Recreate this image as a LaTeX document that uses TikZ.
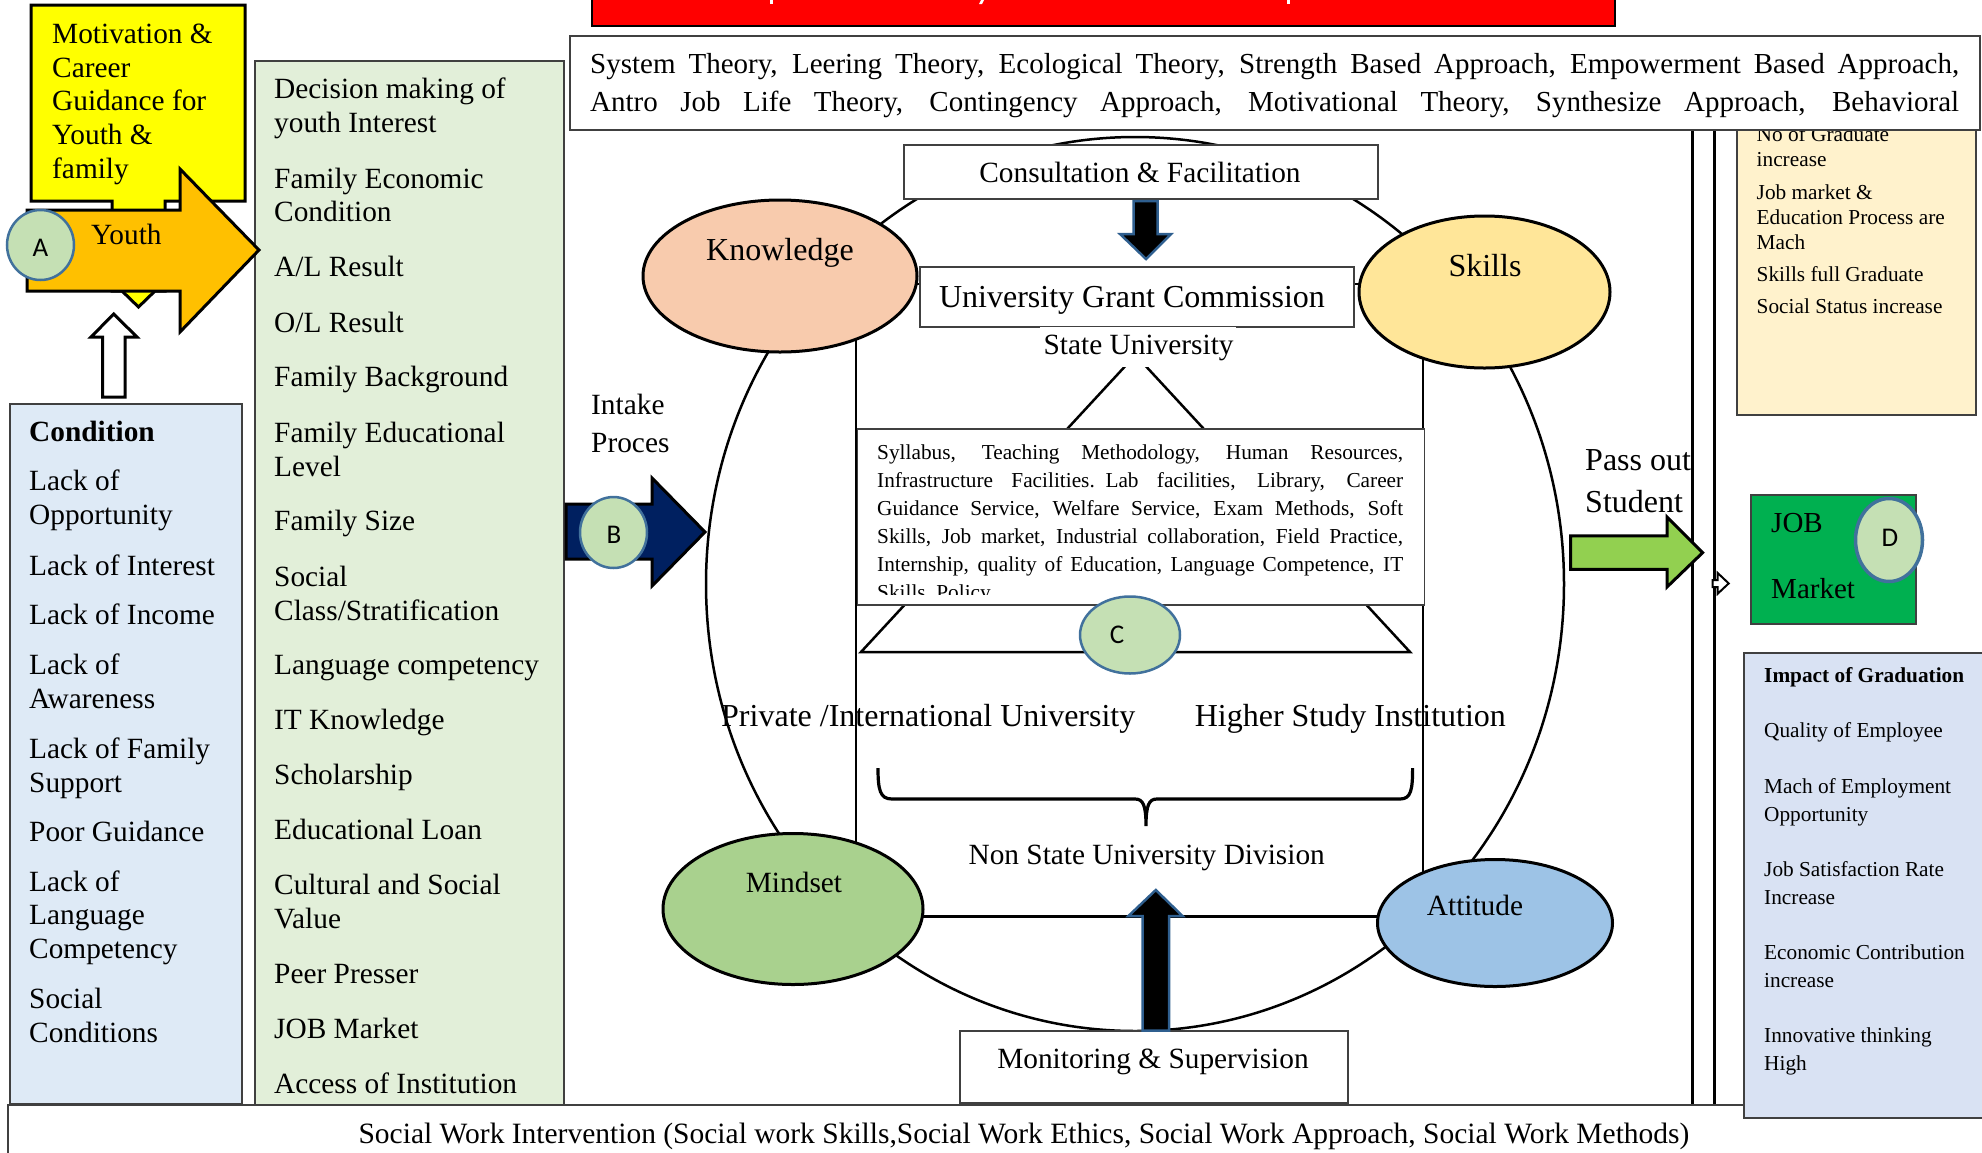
\documentclass[tikz,border=0pt]{standalone}
\usepackage{fontspec}
\setmainfont{Liberation Serif}
\newfontfamily\circfont{Carlito}
\usetikzlibrary{shapes.geometric}
\definecolor{badgeblue}{HTML}{41719C}
\definecolor{badgegreen}{HTML}{C5E0B4}
\definecolor{arrowblue}{HTML}{2F5F8F}
\definecolor{condblue}{HTML}{DEEAF6}
\definecolor{factgreen}{HTML}{E2EFD9}
\definecolor{cream}{HTML}{FFF2CC}
\definecolor{impact}{HTML}{D9E2F3}
\definecolor{orangeA}{HTML}{FFC000}
\definecolor{navy}{HTML}{002060}
\definecolor{lime}{HTML}{92D050}
\definecolor{jobgreen}{HTML}{00B050}
\definecolor{knowc}{HTML}{F8CBAD}
\definecolor{skillc}{HTML}{FFE699}
\definecolor{mindc}{HTML}{A9D18E}
\definecolor{attc}{HTML}{9DC3E6}
\definecolor{pureyellow}{HTML}{FFFF00}
\definecolor{purered}{HTML}{FF0000}
\newcommand\jline[2]{{\spaceskip=0.25em plus 1em minus 0.05em\relax\makebox[#1][s]{#2}}}
\tikzset{
  panel/.style={draw=#1,line width=1.6pt,inner sep=0pt,anchor=north west},
  panel/.default=black!75,
  blob/.style={ellipse,draw=black,line width=3pt,inner sep=0pt},
  badge/.style={ellipse,draw=badgeblue,fill=badgegreen,line width=2.5pt,inner sep=0pt},
  badgetext/.style={inner sep=0pt,font=\circfont\fontsize{27}{30}\selectfont},
  txt/.style={anchor=base west,inner sep=0pt,text width=#1,align=left,execute at begin node={\spaceskip=0.25em\relax}},
  txt/.default=600pt,
  ctxt/.style={anchor=base,inner sep=0pt},
  body/.style={font=\fontsize{29.35}{33.7}\selectfont},
  big/.style={font=\fontsize{32}{38}\selectfont},
  small/.style={font=\fontsize{21.3}{28}\selectfont},
  blockarrow/.style={line width=3pt,draw=black,line join=miter},
  navarrow/.style={line width=2.5pt,draw=arrowblue,fill=black,line join=miter},
}
\begin{document}
\begin{tikzpicture}[x=1pt,y=-1pt]
\useasboundingbox (0,0) rectangle (1982,1152);
% red banner
\node[panel=black,fill=purered,minimum width=1023pt,minimum height=45pt] (banner) at (591,-20) {};
\fill[white] (769.5,0) rectangle (773,4);
\fill[white] (979,4) -- (981,0) -- (984,0) -- (982,4) -- cycle;
\fill[white] (1286.5,0) rectangle (1290,4);
% ring and frame behind everything
\node[ellipse,draw=black,line width=2.5pt,inner sep=0pt,minimum width=858pt,minimum height=894pt] (ring) at (1135,584) {};
\draw[line width=2pt] (856,284) -- (1423,284) -- (1423,916);
\draw[line width=2pt] (856,284) -- (856,916);
\draw[line width=3pt] (856,916) -- (1423,916);
% triangle
\draw[line width=2.5pt,line join=miter] (1135.5,355) -- (861,652) -- (1410,652) -- cycle;
% double lines
\draw[line width=3pt] (1692.7,129) -- (1692.7,1104);
\draw[line width=3pt] (1714,129) -- (1714,1104);
% small white arrow
\draw[line width=2pt,fill=white,line join=miter] (1712.7,580) -- (1717.7,580) -- (1717.7,573) -- (1728.7,583.4) -- (1717.7,593.7) -- (1717.7,587) -- (1712.7,587) -- cycle;
% cream box
\node[panel,fill=cream,minimum width=239pt,minimum height=324pt] (creambox) at (1736,90) {};
\foreach \y/\t [count=\i] in {141.6/{No of Graduate\\increase},199/{Job market \&\\Education Process are\\Mach},281/{Skills full Graduate},313.7/{Social Status increase}}
  \node[txt,font=\fontsize{21.3}{25}\selectfont] (cr\i) at (1756.5,\y) {\t};
% theory box
\node[panel,fill=white,minimum width=1410pt,minimum height=94pt] (theory) at (569,35) {};
\node[txt=1369pt,font=\fontsize{29}{38}\selectfont] (theorytext) at (590,73) {\jline{1369pt}{System Theory, Leering Theory, Ecological Theory, Strength Based Approach, Empowerment Based Approach,}\\\jline{1369pt}{Antro Job Life Theory, Contingency Approach, Motivational Theory, Synthesize Approach, Behavioral}};
% left column
\node[panel,fill=condblue,minimum width=232pt,minimum height=700pt] (cond) at (9,403) {};
\node[txt,body] (condhead) at (29,441) {\textbf{Condition}};
\foreach \y/\t [count=\i] in {489/{Lack of\\Opportunity},573.5/{Lack of Interest},622.8/{Lack of Income},673/{Lack of\\Awareness},756.8/{Lack of Family\\Support},840/{Poor Guidance},889.5/{Lack of\\Language\\Competency},1007/{Social\\Conditions}}
  \node[txt,body] (c\i) at (29,\y+1.5) {\t};
\node[panel,fill=factgreen,minimum width=309pt,minimum height=1045pt] (factors) at (254,60) {};
\foreach \y/\t [count=\i] in {97/{Decision making of\\youth Interest},186.7/{Family Economic\\Condition},275/{A/L Result},330.8/{O/L Result},385.2/{Family Background},440.8/{Family Educational\\Level},529.3/{Family Size},584.9/{Social\\Class/Stratification},673.4/{Language competency},727.7/{IT Knowledge},783.3/{Scholarship},837.7/{Educational Loan},893.3/{Cultural and Social\\Value},981.8/{Peer Presser},1037.4/{JOB Market},1091.8/{Access of Institution}}
  \node[txt,body] (g\i) at (274,\y+1.5) {\t};
% yellow callout
\draw[line width=3pt,fill=pureyellow,line join=miter] (31,5) -- (245,5) -- (245,201) -- (165,201) -- (165,291) -- (155,291) -- (138.5,307) -- (122,291) -- (112,291) -- (112,201) -- (31,201) -- cycle;
\node[txt,body] (motiv) at (52,43.5) {Motivation \&\\Career\\Guidance for\\Youth \&\\family};
% orange arrow
\draw[blockarrow,fill=orangeA] (27,210) -- (180,210) -- (180,169) -- (259,250) -- (180,332) -- (180,291) -- (27,291) -- cycle;
\node[txt,body] (youth) at (91,244) {Youth};
\node[badge,minimum width=67pt,minimum height=70pt] (A) at (40.5,245) {};
\node[badgetext] (Atext) at (40.5,248) {A};
% white up arrow
\draw[blockarrow,fill=white] (102.6,397) -- (102.6,337) -- (91,337) -- (113.7,314) -- (137,337) -- (125,337) -- (125,397) -- cycle;
% intake
\node[txt,font=\fontsize{29.35}{38}\selectfont] (intake) at (591,414.3) {Intake\\Proces};
\draw[blockarrow,fill=navy] (566,504) -- (652,504) -- (652,478) -- (705,532) -- (652,586) -- (652,559) -- (566,559) -- cycle;
\node[badge,minimum width=67pt,minimum height=71pt] (B) at (613.5,532.5) {};
\node[badgetext] (Btext) at (614,535) {B};
% centre boxes
\node[panel,fill=white,minimum width=474pt,minimum height=54pt] (consult) at (903,144) {};
\node[ctxt,body] (consulttext) at (1140,182) {Consultation \& Facilitation};
\draw[navarrow] (1133.5,201) -- (1157.5,201) -- (1157.5,234) -- (1171,234) -- (1146,259) -- (1120,234) -- (1133.5,234) -- cycle;
\node[panel,fill=white,minimum width=434pt,minimum height=60pt] (ugc) at (919,266) {};
\node[ctxt,big] (ugctext) at (1132,307) {University Grant Commission};
\node[fill=white,inner sep=0pt,anchor=north west,minimum width=196pt,minimum height=40pt] (statebg) at (1040,327) {};
\node[ctxt,body] (state) at (1138.6,354) {State University};
\node[panel,fill=white,minimum width=567pt,minimum height=176pt] (syll) at (856.5,428) {};
\begin{scope}
\clip (857,429) rectangle (1423,594);
\node[txt=526pt,small] (sylltext) at (877,459) {\jline{526pt}{Syllabus, Teaching Methodology, Human Resources,}\\\jline{526pt}{Infrastructure Facilities. Lab facilities, Library, Career}\\\jline{526pt}{Guidance Service, Welfare Service, Exam Methods, Soft}\\\jline{526pt}{Skills, Job market, Industrial collaboration, Field Practice,}\\\jline{526pt}{Internship, quality of Education, Language Competence, IT}\\Skills, Policy};
\end{scope}
\node[badge,minimum width=100pt,minimum height=77pt] (C) at (1130,635) {};
\node[badgetext] (Ctext) at (1117,635) {C};
\node[ctxt,big,anchor=base west] (private) at (721,726) {Private /International University};
\node[ctxt,big,anchor=base west] (higher) at (1194.6,726) {Higher Study Institution};
% brace
\draw[line width=3.2pt] (878,768) .. controls (878,790) and (880,799) .. (892,799) -- (1135,799) .. controls (1143,799) and (1146,805) .. (1146,826) .. controls (1146,805) and (1149,799) .. (1157,799) -- (1400,799) .. controls (1411,799) and (1412.6,790) .. (1412.6,768);
\node[ctxt,body] (nonstate) at (1146.7,864) {Non State University Division};
% ellipses
\node[blob,fill=knowc,minimum width=274pt,minimum height=152pt] (know) at (780,276) {};
\node[ctxt,big] (knowtext) at (780,260) {Knowledge};
\node[blob,fill=skillc,minimum width=251pt,minimum height=152pt] (skills) at (1484.5,292) {};
\node[ctxt,big] (skillstext) at (1485,276) {Skills};
\node[blob,fill=mindc,minimum width=260pt,minimum height=151pt] (mind) at (793,909) {};
\node[ctxt,body] (mindtext) at (794,892) {Mindset};
\node[blob,fill=attc,minimum width=235pt,minimum height=127pt] (att) at (1495,923) {};
\node[ctxt,body] (atttext) at (1475,915) {Attitude};
% monitoring
\node[panel,fill=white,minimum width=388pt,minimum height=72pt] (monitor) at (959,1030) {};
\node[ctxt,body] (monitortext) at (1153,1068) {Monitoring \& Supervision};
\draw[navarrow] (1142.5,1030.7) -- (1142.5,916) -- (1128.4,916) -- (1155.8,890) -- (1182.5,916) -- (1169,916) -- (1169,1030.7) -- cycle;
% pass out
\node[txt,font=\fontsize{32}{42.5}\selectfont] (passout) at (1585,470) {Pass out\\Student};
\draw[blockarrow,fill=lime] (1570.7,535.8) -- (1667,535.8) -- (1667,517) -- (1702.7,552.6) -- (1667,587) -- (1667,569.4) -- (1570.7,569.4) -- cycle;
% job market
\node[panel,fill=jobgreen,minimum width=165pt,minimum height=129pt] (job) at (1750,494) {};
\node[txt,font=\fontsize{29}{66}\selectfont] (jobtext) at (1771,532) {JOB\\Market};
\node[badge,line width=3.5pt,minimum width=67pt,minimum height=83pt] (D) at (1889,540) {};
\node[badgetext] (Dtext) at (1890,538) {D};
% bottom bar
\node[panel,fill=white,minimum width=2000pt,minimum height=60pt] (social) at (7,1104) {};
\node[ctxt,font=\fontsize{29.5}{34}\selectfont] (socialtext) at (1024,1143) {Social Work Intervention (Social work Skills,Social Work Ethics, Social Work Approach, Social Work Methods)};
% impact box
\node[panel,fill=impact,minimum width=260pt,minimum height=465pt] (impactbox) at (1743,652) {};
\node[txt,small] (imphead) at (1764,682.8) {\textbf{Impact of Graduation}};
\foreach \y/\t [count=\i] in {737.5/{Quality of Employee},793.5/{Mach of Employment\\Opportunity},876/{Job Satisfaction Rate\\Increase},959/{Economic Contribution\\increase},1042/{Innovative thinking\\High}}
  \node[txt,small] (im\i) at (1764,\y) {\t};
\end{tikzpicture}
\end{document}
